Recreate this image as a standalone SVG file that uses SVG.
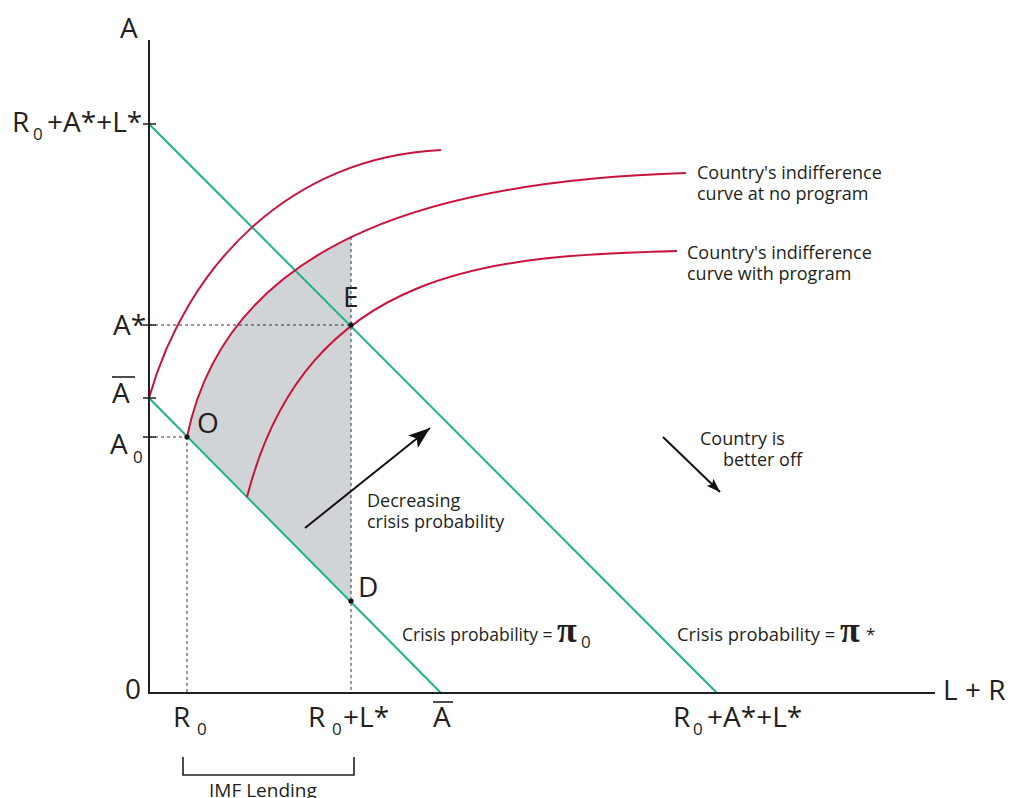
<svg xmlns="http://www.w3.org/2000/svg" width="1011" height="798" viewBox="0 0 1011 798">
<defs>
<style>
.ax{stroke:#231f20;stroke-width:2;fill:none}
.tk{stroke:#231f20;stroke-width:1.6;fill:none}
.dash{stroke:#333;stroke-width:1;stroke-dasharray:3,3;fill:none}
.red{stroke:#c8143c;stroke-width:2;fill:none}
.grn{stroke:#1db389;stroke-width:2;fill:none}
.arr{stroke:#111;stroke-width:2;fill:none}
.t{font-family:"Open Sans","Liberation Sans",sans-serif;fill:#231f20}
.m{font-size:28px}
.s{font-size:17px}
.lb{font-size:18px}
.cp{font-size:17.5px}
.pi{font-family:"Liberation Serif","DejaVu Serif",serif;font-size:36px;font-weight:bold;fill:#231f20}
</style>
<marker id="ah1" markerUnits="userSpaceOnUse" viewBox="0 0 22 16" markerWidth="22" markerHeight="16" refX="22" refY="8" orient="auto"><path d="M0,0 L22,8 L0,16 L5,8 Z" fill="#111"/></marker>
<marker id="ah2" markerUnits="userSpaceOnUse" viewBox="0 0 14 10" markerWidth="14" markerHeight="10" refX="14" refY="5" orient="auto"><path d="M0,0 L14,5 L0,10 L3,5 Z" fill="#111"/></marker>
</defs>
<rect width="1011" height="798" fill="#fff"/>

<g id="shading">
<path d="M187,437 C206.8,339.8 267.8,277.1 351,237.2 L351,601 Z" fill="#d1d4d7"/>
</g>

<g id="guides">
<path class="dash" d="M149,325 H351 M149,437 H187 M187,437 V693 M351,237 V693"/>
</g>

<g id="budget-lines">
<path class="grn" d="M149,124 L717,693"/>
<path class="grn" d="M149,398 L441,693"/>
</g>

<g id="curves">
<path class="red" d="M149,398 C187,264 291,157 441,150"/>
<path class="red" d="M187,437 C229,231 456,180 686,173"/>
<path class="red" d="M247,497 C307,264 497,256 677,251"/>
</g>

<g id="axes">
<path class="ax" d="M149,40 V693 H935"/>
<path class="tk" d="M143,124 H156 M143,325 H156 M143,398 H156 M143,437 H156"/>
</g>

<g id="points" fill="#111">
<circle cx="187" cy="437" r="2.6"/>
<circle cx="351" cy="325" r="2.6"/>
<circle cx="351" cy="601" r="2.6"/>
</g>

<g id="connectors">
<path class="arr" d="M305,528 L430,428" marker-end="url(#ah1)"/>
<path class="arr" d="M663,437 L720,492" marker-end="url(#ah2)"/>
</g>

<g id="axis-labels">
<text class="t m" x="120" y="38">A</text>
<text class="t m" x="12" y="132">R</text><text class="t s" x="33" y="140">0</text><text class="t m" x="47" y="132">+A*+L*</text>
<text class="t m" x="113" y="335">A*</text>
<text class="t m" x="112" y="403">A</text><path class="tk" d="M112,377 H135"/>
<text class="t m" x="110" y="454">A</text><text class="t s" x="133" y="463">0</text>
<text class="t m" x="125" y="699">0</text>
<text class="t m" x="943" y="700">L + R</text>
<text class="t m" x="173" y="727">R</text><text class="t s" x="197" y="735">0</text>
<text class="t m" x="308" y="727">R</text><text class="t s" x="332" y="735">0</text><text class="t m" x="343" y="727">+L*</text>
<text class="t m" x="433" y="727">A</text><path class="tk" d="M433,702 H453"/>
<text class="t m" x="673" y="727">R</text><text class="t s" x="693" y="735">0</text><text class="t m" x="707" y="727">+A*+L*</text>
</g>

<g id="point-labels">
<text class="t m" x="197" y="433">O</text>
<text class="t m" x="343" y="307">E</text>
<text class="t m" x="358" y="597">D</text>
</g>

<g id="notes">
<text class="t lb" x="697" y="179">Country's indifference</text>
<text class="t lb" x="697" y="200">curve at no program</text>
<text class="t lb" x="687" y="259">Country's indifference</text>
<text class="t lb" x="687" y="280">curve with program</text>
<text class="t lb" x="367" y="507">Decreasing</text>
<text class="t lb" x="367" y="528">crisis probability</text>
<text class="t lb" x="700" y="445">Country is</text>
<text class="t lb" x="723" y="466">better off</text>
<text class="t cp" x="402" y="641">Crisis probability =</text><text class="pi" x="557" y="642">π</text><text class="t s" x="581" y="648">0</text>
<text class="t cp" x="677" y="641" style="font-size:18.4px">Crisis probability =</text><text class="pi" x="840" y="642">π</text><text class="t s" x="866" y="640">*</text>
</g>

<g id="bracket">
<path class="tk" d="M183,757 V775 H354 V757"/>
<text class="t" x="209" y="797" style="font-size:19px">IMF Lending</text>
</g>
</svg>
